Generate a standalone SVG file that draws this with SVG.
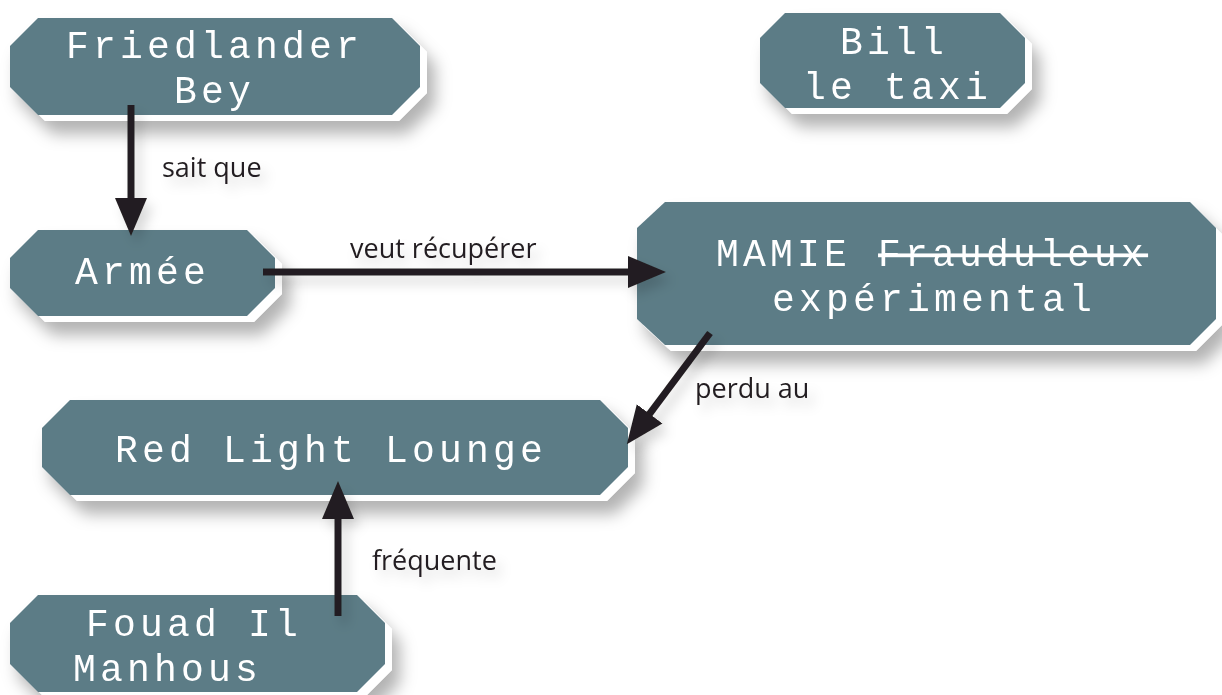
<svg xmlns="http://www.w3.org/2000/svg" width="1222" height="695" viewBox="0 0 1222 695">
  <defs>
    <filter id="shadow" x="-10%" y="-20%" width="130%" height="170%">
      <feGaussianBlur in="SourceAlpha" stdDeviation="8"/>
      <feOffset dx="8" dy="13" result="b"/>
      <feFlood flood-color="#000" flood-opacity="0.3"/>
      <feComposite in2="b" operator="in" result="s"/>
      <feMerge><feMergeNode in="s"/><feMergeNode in="SourceGraphic"/></feMerge>
    </filter>
    <filter id="lshadow" x="-30%" y="-30%" width="160%" height="160%">
      <feGaussianBlur in="SourceAlpha" stdDeviation="6"/>
      <feOffset dx="6" dy="8" result="b"/>
      <feFlood flood-color="#000" flood-opacity="0.15"/>
      <feComposite in2="b" operator="in" result="s"/>
      <feMerge><feMergeNode in="s"/><feMergeNode in="SourceGraphic"/></feMerge>
    </filter>
    <marker id="arrow" markerUnits="userSpaceOnUse" markerWidth="42" markerHeight="36" refX="1" refY="17" orient="auto">
      <path d="M0,1 L38,17 L0,33 Z" fill="#231f20"/>
    </marker>
  </defs>
  <style>
    .halo { fill: #ffffff; }
    .box { fill: #5b7b86; }
    .lbl { font-family: "Liberation Mono", "DejaVu Sans Mono", monospace; font-size: 38px; letter-spacing: 4.2px; fill: #ffffff; }
    .elbl { font-family: "Open Sans", "Noto Sans", sans-serif; font-size: 27px; fill: #231f20; }
    .edge { stroke: #231f20; stroke-width: 7; fill: none; marker-end: url(#arrow); }
    .strike { text-decoration: line-through; }
  </style>

  <g id="node-friedlander" filter="url(#shadow)">
    <polygon class="halo" transform="translate(7,6)" points="38,18 392,18 420,46 420,87 392,115 38,115 10,87 10,46"/>
    <polygon class="box" points="38,18 392,18 420,46 420,87 392,115 38,115 10,87 10,46"/>
    <text class="lbl" x="66" y="58">Friedlander</text>
    <text class="lbl" x="174" y="103">Bey</text>
  </g>

  <g id="node-bill" filter="url(#shadow)">
    <polygon class="halo" transform="translate(7,6)" points="785,13 1000,13 1025,38 1025,83 1000,108 785,108 760,83 760,38"/>
    <polygon class="box" points="785,13 1000,13 1025,38 1025,83 1000,108 785,108 760,83 760,38"/>
    <text class="lbl" x="840" y="54">Bill</text>
    <text class="lbl" x="803" y="99">le taxi</text>
  </g>

  <g id="node-armee" filter="url(#shadow)">
    <polygon class="halo" transform="translate(7,6)" points="38,230 247,230 275,258 275,288 247,316 38,316 10,288 10,258"/>
    <polygon class="box" points="38,230 247,230 275,258 275,288 247,316 38,316 10,288 10,258"/>
    <text class="lbl" x="75" y="284">Armée</text>
  </g>

  <g id="node-mamie" filter="url(#shadow)">
    <polygon class="halo" transform="translate(6,6)" points="665,202 1190,202 1216,228 1216,319 1190,345 665,345 637,319 637,228"/>
    <polygon class="box" points="665,202 1190,202 1216,228 1216,319 1190,345 665,345 637,319 637,228"/>
    <text class="lbl" x="716" y="266">MAMIE <tspan class="strike">Frauduleux</tspan></text>
    <text class="lbl" x="772" y="311">expérimental</text>
  </g>

  <g id="node-redlight" filter="url(#shadow)">
    <polygon class="halo" transform="translate(7,6)" points="70,400 600,400 628,428 628,467 600,495 70,495 42,467 42,428"/>
    <polygon class="box" points="70,400 600,400 628,428 628,467 600,495 70,495 42,467 42,428"/>
    <text class="lbl" x="115" y="462">Red Light Lounge</text>
  </g>

  <g id="node-fouad" filter="url(#shadow)">
    <polygon class="halo" transform="translate(7,6)" points="38,595 357,595 385,623 385,664 357,692 38,692 10,664 10,623"/>
    <polygon class="box" points="38,595 357,595 385,623 385,664 357,692 38,692 10,664 10,623"/>
    <text class="lbl" x="86" y="636">Fouad Il</text>
    <text class="lbl" x="73" y="681">Manhous</text>
  </g>

  <g id="connectors" filter="url(#lshadow)">
    <line class="edge" x1="131" y1="105" x2="131" y2="199"/>
    <line class="edge" x1="263" y1="272" x2="629" y2="272"/>
    <line class="edge" x1="710" y1="333" x2="649" y2="414.6"/>
    <line class="edge" x1="338" y1="616" x2="338" y2="518"/>
    <text class="elbl" x="162" y="177">sait que</text>
    <text class="elbl" x="350" y="258">veut récupérer</text>
    <text class="elbl" x="695" y="398">perdu au</text>
    <text class="elbl" x="372" y="570">fréquente</text>
  </g>
</svg>
